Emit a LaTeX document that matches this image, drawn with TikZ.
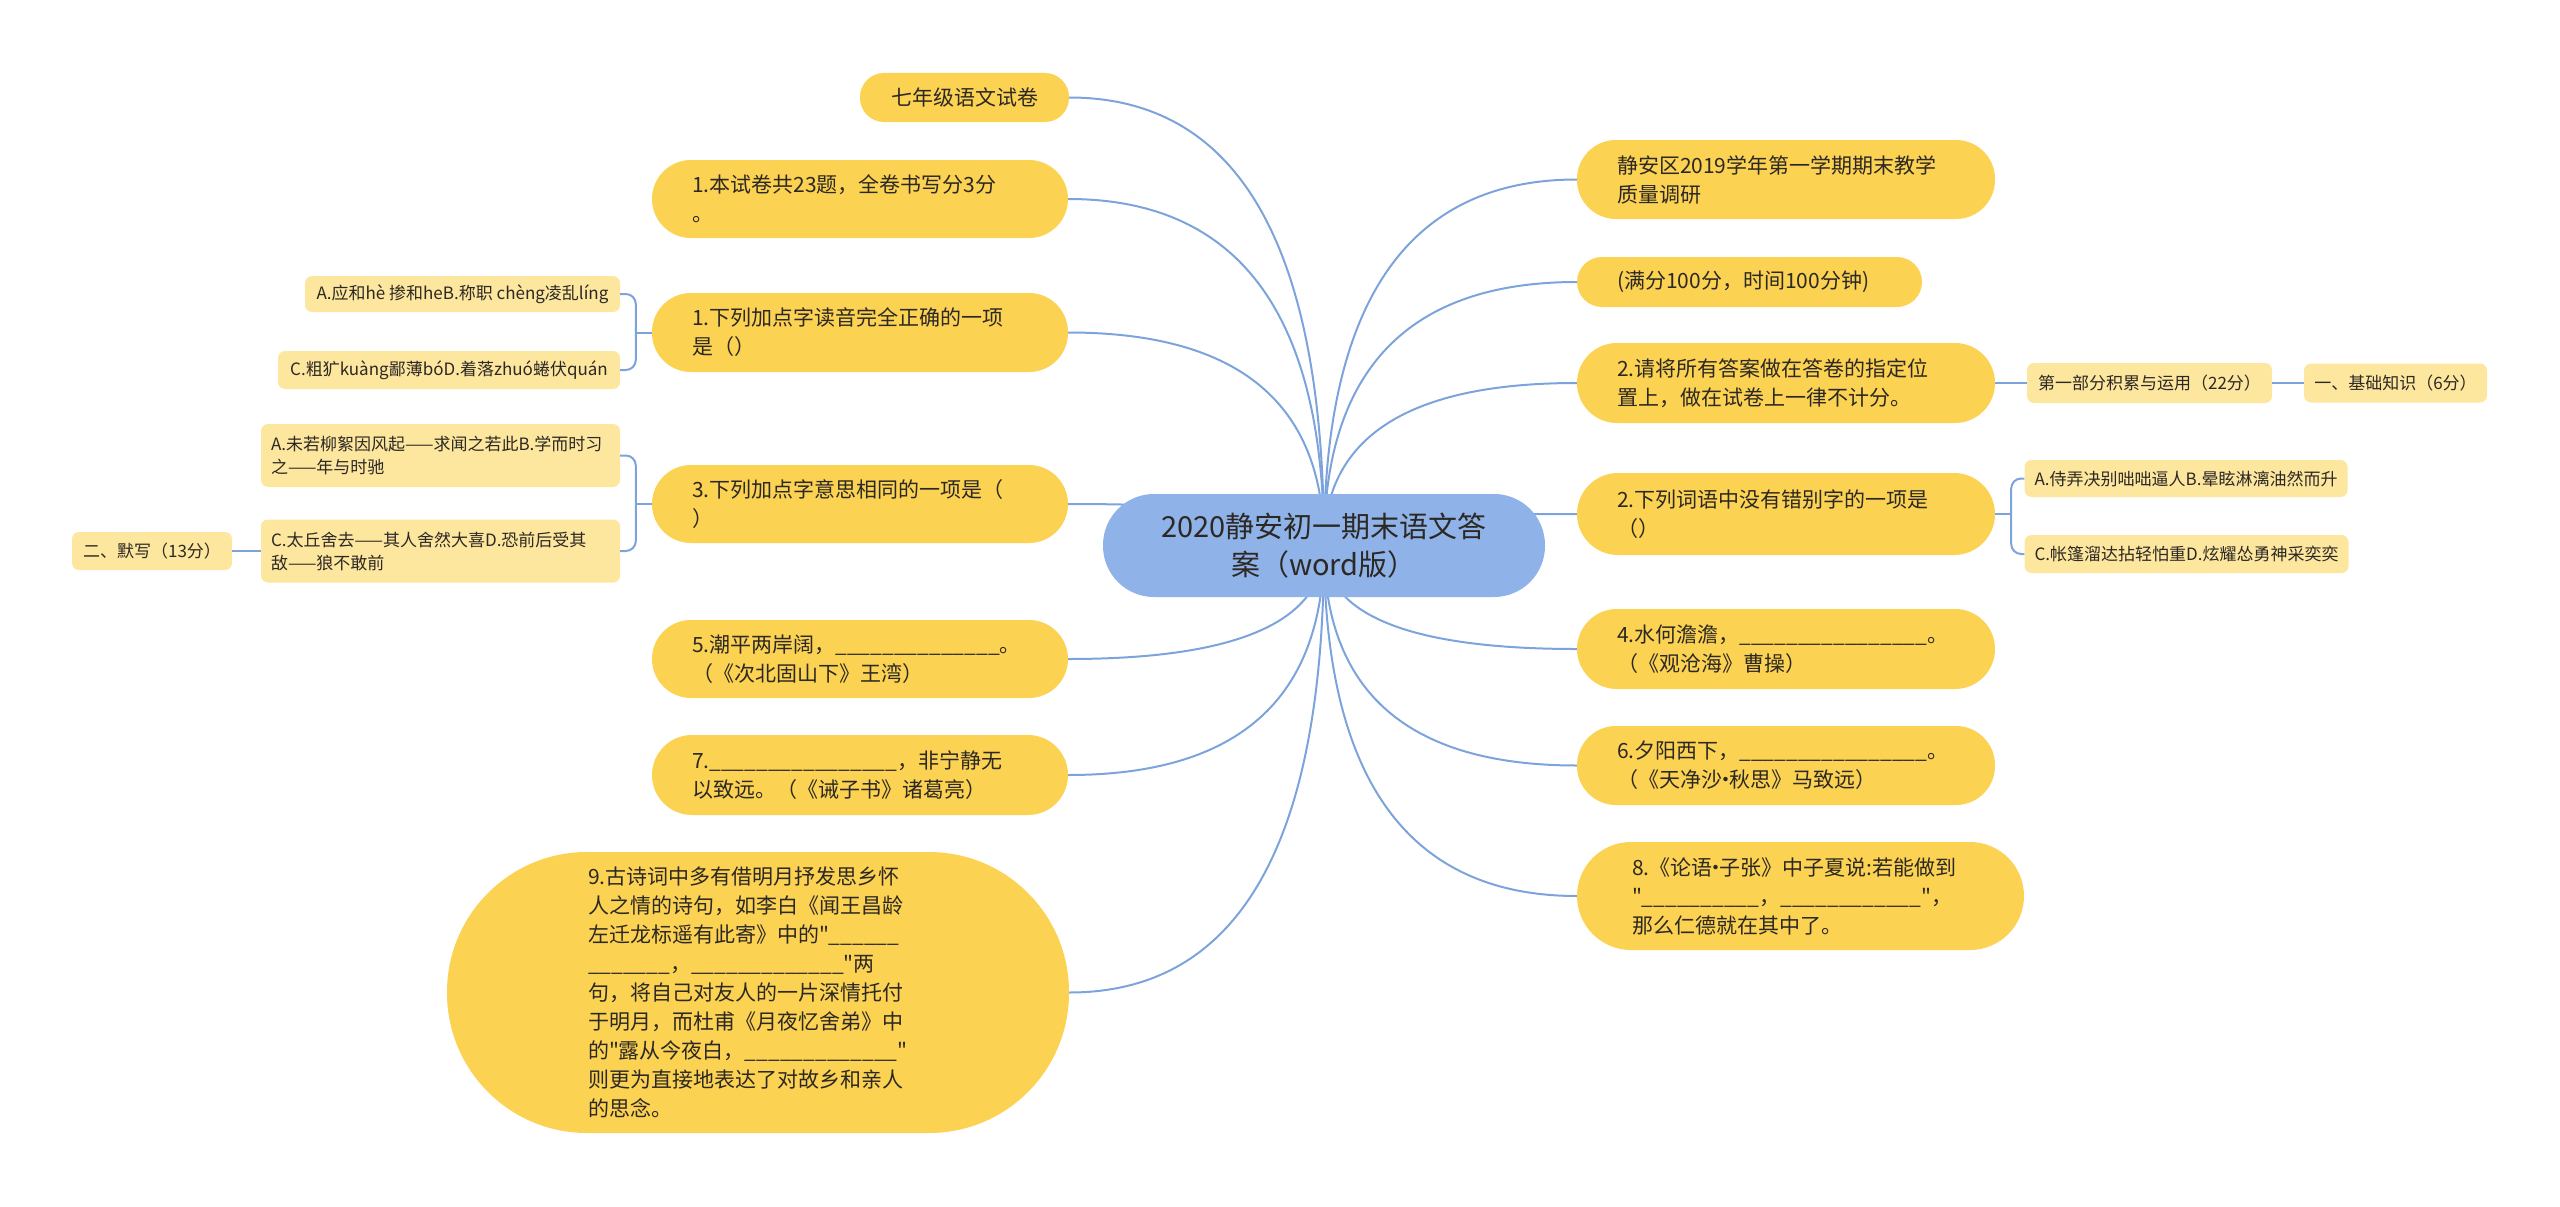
\documentclass[tikz,border=0pt]{standalone}
\usepackage{fontspec}
\setmainfont{Noto Sans CJK SC}[Ligatures=TeXOff]
\definecolor{MapBlue}{RGB}{143,179,233}
\definecolor{MapLine}{RGB}{125,163,220}
\definecolor{MapYellow}{RGB}{252,210,82}
\definecolor{MapPale}{RGB}{253,230,158}
\definecolor{MapText}{RGB}{44,40,36}
\usetikzlibrary{calc,backgrounds}
\newcommand{\blank}[1]{\foreach \k in {1,...,#1}{\_}}
\newcommand{\mdot}{\makebox[0.35em][c]{·}}

\begin{document}
\begin{tikzpicture}[x=1pt,y=1pt,
  topic/.style={fill=MapYellow,text=MapText,rounded corners=39pt,inner xsep=40pt,inner ysep=0pt,
    align=left,font=\fontsize{21}{29}\selectfont},
  leaf/.style={fill=MapPale,text=MapText,rounded corners=7pt,inner xsep=10pt,inner ysep=0pt,
    align=left,font=\fontsize{17}{23}\selectfont},
  link/.style={draw=MapLine,line width=2pt},
  curve/.style={to path={.. controls ($(\tikztostart)!0.667!(\tikztostart |- \tikztotarget)$)
    and ($(\tikztotarget)!0.667!(\tikztostart |- \tikztotarget)$) .. (\tikztotarget)}}]
\useasboundingbox (0,0) rectangle (2560,-1207);

% root
\node[fill=MapBlue,text=MapText,rounded corners=51pt,minimum width=442pt,minimum height=103pt,
  align=center,font=\fontsize{29}{38}\selectfont] (root) at (1324,-545.5)
  {2020静安初一期末语文答\\案（word版）};

% left branches
\node[topic,minimum width=209pt,minimum height=49pt,inner xsep=0pt,align=center,rounded corners=24pt]
  (l1) at (964.5,-97.5) {七年级语文试卷};
\node[topic,text width=336pt,minimum height=78pt] (l2) at (860,-199) {1.本试卷共23题，全卷书写分3分\\。};
\node[topic,text width=336pt,minimum height=79pt] (l3) at (860,-332.5) {1.下列加点字读音完全正确的一项\\是（）};
\node[topic,text width=336pt,minimum height=78pt] (l4) at (860,-504) {3.下列加点字意思相同的一项是（\\）};
\node[topic,text width=336pt,minimum height=78pt] (l5) at (860,-659) {5.潮平两岸阔，\blank{14}。\\（《次北固山下》王湾）};
\node[topic,text width=336pt,minimum height=80pt,rounded corners=40pt] (l6) at (860,-775) {7.\blank{16}，非宁静无\\以致远。（《诫子书》诸葛亮）};
\node[topic,text width=340pt,inner xsep=141pt,minimum height=281pt,rounded corners=140pt] (l7) at (758,-992.5)
  {9.古诗词中多有借明月抒发思乡怀\\人之情的诗句，如李白《闻王昌龄\\左迁龙标遥有此寄》中的"\blank{6}\\
   \blank{7}，\blank{13}"两\\句，将自己对友人的一片深情托付\\于明月，而杜甫《月夜忆舍弟》中\\
   的"露从今夜白，\blank{13}"\\则更为直接地表达了对故乡和亲人\\的思念。};

\node[leaf,minimum width=315pt,minimum height=36pt] (l3a) at (462.5,-294) {A.应和hè 掺和heB.称职 chèng凌乱líng};
\node[leaf,minimum width=342pt,minimum height=38pt] (l3b) at (449,-370) {C.粗犷kuàng鄙薄bóD.着落zhuó蜷伏quán};
\node[leaf,text width=339pt,minimum height=63pt] (l4a) at (440.5,-455.5) {A.未若柳絮因风起——求闻之若此B.学而时习\\之——年与时驰};
\node[leaf,text width=339pt,minimum height=63pt] (l4b) at (440.5,-551) {C.太丘舍去——其人舍然大喜D.恐前后受其\\敌——狼不敢前};
\node[leaf,minimum width=160pt,minimum height=38pt] (l4c) at (152,-551) {二、默写（13分）};

% right branches
\node[topic,text width=338pt,minimum height=79pt] (r1) at (1786,-179.5) {静安区2019学年第一学期期末教学\\质量调研};
\node[topic,text width=265pt,minimum height=50pt,rounded corners=25pt] (r2) at (1749.5,-282) {(满分100分，时间100分钟)};
\node[topic,text width=338pt,minimum height=80pt,rounded corners=40pt] (r3) at (1786,-383) {2.请将所有答案做在答卷的指定位\\置上，做在试卷上一律不计分。};
\node[topic,text width=338pt,minimum height=82pt,rounded corners=41pt] (r4) at (1786,-514) {2.下列词语中没有错别字的一项是\\（）};
\node[topic,text width=338pt,minimum height=80pt,rounded corners=40pt] (r5) at (1786,-649) {4.水何澹澹，\blank{16}。\\（《观沧海》曹操）};
\node[topic,text width=338pt,minimum height=79pt] (r6) at (1786,-765.5) {6.夕阳西下，\blank{16}。\\（《天净沙\mdot 秋思》马致远）};
\node[topic,text width=337pt,inner xsep=55pt,minimum height=108pt,rounded corners=54pt] (r7) at (1800.5,-896)
  {8.《论语\mdot 子张》中子夏说:若能做到\\"\blank{10}，\blank{12}"，\\那么仁德就在其中了。};

\node[leaf,minimum width=245pt,minimum height=40pt] (r3a) at (2149.5,-383) {第一部分积累与运用（22分）};
\node[leaf,minimum width=183pt,minimum height=39pt] (r3b) at (2395.5,-383) {一、基础知识（6分）};
\node[leaf,minimum width=318pt,minimum height=37pt] (r4a) at (2186,-478.5) {A.侍弄决别咄咄逼人B.晕眩淋漓油然而升};
\node[leaf,minimum width=319pt,minimum height=38pt] (r4b) at (2186.5,-554) {C.帐篷溜达拈轻怕重D.炫耀怂勇神采奕奕};

% connectors
\begin{scope}[on background layer]
\foreach \n in {l1,l2,l3,l4,l5,l6,l7}
  \draw[link] (root.center) to[curve] (\n.east);
\foreach \n in {r1,r2,r3,r4,r5,r6,r7}
  \draw[link] (root.center) to[curve] (\n.west);
\end{scope}

\coordinate (kl3) at ($(l3.west)+(-16,0)$);
\coordinate (kl4) at ($(l4.west)+(-16,0)$);
\coordinate (kr4) at ($(r4.east)+(16,0)$);
\draw[link] (l3.west) -- (kl3);
\draw[link,rounded corners=10pt] (l3a.east) -| (kl3) |- (l3b.east);
\draw[link] (l4.west) -- (kl4);
\draw[link,rounded corners=10pt] (l4a.east) -| (kl4) |- (l4b.east);
\draw[link] (l4b.west) -- (l4c.east);
\draw[link] (r3.east) -- (r3a.west);
\draw[link] (r3a.east) -- (r3b.west);
\draw[link] (r4.east) -- (kr4);
\draw[link,rounded corners=10pt] (r4a.west) -| (kr4) |- (r4b.west);
\end{tikzpicture}
\end{document}
